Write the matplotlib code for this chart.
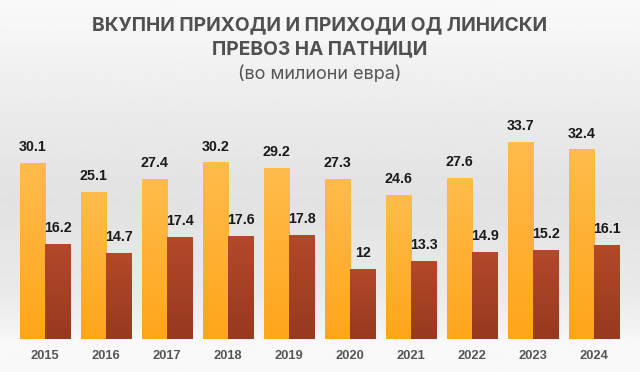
import numpy as np
import matplotlib
matplotlib.use("Agg")
import matplotlib.pyplot as plt
from matplotlib.colors import LinearSegmentedColormap

years = ["2015", "2016", "2017", "2018", "2019", "2020", "2021", "2022", "2023", "2024"]
total = [30.1, 25.1, 27.4, 30.2, 29.2, 27.3, 24.6, 27.6, 33.7, 32.4]
linear = [16.2, 14.7, 17.4, 17.6, 17.8, 12, 13.3, 14.9, 15.2, 16.1]
title_lines = ["ВКУПНИ ПРИХОДИ И ПРИХОДИ ОД ЛИНИСКИ", "ПРЕВОЗ НА ПАТНИЦИ"]
subtitle = "(во милиони евра)"

W, H = 640, 372
fig = plt.figure(figsize=(W / 100, H / 100), dpi=100)

# background gradient
bg = fig.add_axes([0, 0, 1, 1], zorder=-10)
bg.set_axis_off()
ys = np.array([0, 40, 100, 200, 290, 330, 340, 372]) / H
vals = np.array([0.975, 0.96, 0.925, 0.885, 0.915, 0.95, 0.975, 0.975])
grid = np.linspace(0, 1, 400)
col = np.interp(grid, ys, vals)
img = np.repeat(col[:, None], 2, axis=1)
bg.imshow(img, cmap="gray", vmin=0, vmax=1, aspect="auto", extent=[0, 1, 1, 0])
bg.set_xlim(0, 1); bg.set_ylim(1, 0)

scale = 5.85  # px per unit
base_px = 33
ax = fig.add_axes([0, base_px / H, 1, (H - base_px) / H])
ax.patch.set_alpha(0)
spacing = 61.0
x0 = 45.0
ax.set_xlim(-x0 / spacing, (W - x0) / spacing)
ax.set_ylim(0, (H - base_px) / scale)
ax.set_axis_off()

x = np.arange(len(years))
bw = 25.3 / spacing
b1 = ax.bar(x - bw / 2, total, bw, color="#FFB030", linewidth=0)
b2 = ax.bar(x + bw / 2, linear, bw, color="#A84226", linewidth=0)

cm1 = LinearSegmentedColormap.from_list("o", ["#FFA51A", "#FFBC4C"])
cm2 = LinearSegmentedColormap.from_list("b", ["#963A20", "#B4482A"])
grad = np.linspace(0, 1, 256)[::-1][:, None]
for bars, cm in ((b1, cm1), (b2, cm2)):
    for p in bars:
        bx, by = p.get_x(), p.get_y()
        w, h = p.get_width(), p.get_height()
        im = ax.imshow(grad, cmap=cm, aspect="auto",
                       extent=[bx, bx + w, by, by + h], zorder=2)
        im.set_clip_path(p)

ax.set_xlim(-x0 / spacing, (W - x0) / spacing)
ax.set_ylim(0, (H - base_px) / scale)

lab_font = dict(family="Liberation Sans", weight="bold", size=10.3, color="#1a1a1a")
for bars, vals_ in ((b1, total), (b2, linear)):
    for p, v in zip(bars, vals_):
        ax.annotate(f"{v:g}", (p.get_x() + p.get_width() / 2, p.get_height()),
                    xytext=(0, 8.5), textcoords="offset points",
                    ha="center", va="baseline", **lab_font)

for xi, yr in zip(x, years):
    fig.text((x0 + spacing * xi) / W, 1 - 356 / H, yr, ha="center", va="center",
             family="Liberation Sans", weight="bold", size=9.3, color="#555555")

fig.text(0.5, 1 - 30 / H, title_lines[0], ha="center", va="baseline",
         family="Inter", weight="bold", size=13.8, color="#505050")
fig.text(0.5, 1 - 54.5 / H, title_lines[1], ha="center", va="baseline",
         family="Inter", weight="bold", size=13.8, color="#505050")
fig.text(0.5, 1 - 79 / H, subtitle, ha="center", va="baseline",
         family="Inter", size=13, color="#555555")

fig.savefig("out.png", dpi=100)
